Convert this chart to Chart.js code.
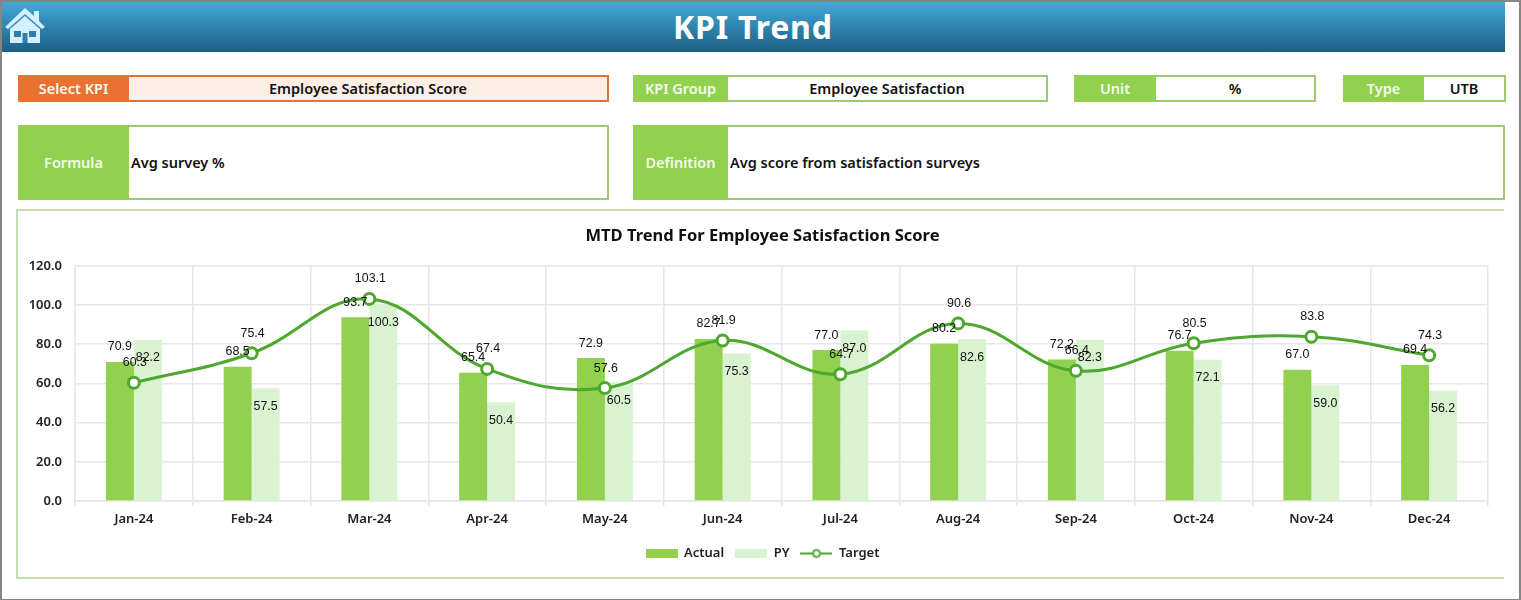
<!DOCTYPE html>
<html>
<head>
<meta charset="utf-8">
<title>KPI Trend</title>
<script src="https://cdn.jsdelivr.net/npm/chart.js@4/dist/chart.umd.js"></script>
<style>
  html, body { margin: 0; padding: 0; background: #fff; }
  #page { position: relative; width: 1521px; height: 600px; overflow: hidden; background: #fff; font-family: "Noto Sans", sans-serif; }
  #frame { position: absolute; left: 0; top: 0; width: 1517px; height: 597px; border: 2px solid #858585; pointer-events: none; }
  #header { position: absolute; left: 2px; top: 2px; width: 1503px; height: 50px; background: linear-gradient(#41a9da, #1b5f83); color: #fff; font: bold 32px "Noto Sans", sans-serif; line-height: 50px; }
  #header span { position: absolute; left: 671px; top: 0; letter-spacing: 0.8px; }
  #home { position: absolute; left: 2px; top: 5px; }
  .box { position: absolute; box-sizing: border-box; border: 2px solid #9ccb6f; background: #fff; font-weight: 600; font-size: 14.5px; color: #111; }
  .box b { position: absolute; left: -2px; top: -2px; bottom: -2px; padding-bottom: 1px; box-sizing: border-box; background: #92d050; color: #f3fbe9; font-weight: 600; display: flex; align-items: center; justify-content: center; }
  .box i { position: absolute; top: 0; bottom: 2px; right: 0; font-style: normal; display: flex; align-items: center; justify-content: center; white-space: nowrap; }
  .box i.left { justify-content: flex-start; padding-left: 2px; }
  .box.orange { border-color: #d5763f; background: #fdeee6; }
  .box.orange b { background: #e97132; }
  #panel { position: absolute; left: 16px; top: 209px; width: 1486px; height: 366px; border: 2px solid #c2e0ae; border-right: none; }
  #chartBox { position: absolute; left: 16px; top: 209px; }
</style>
</head>
<body>
<div id="page">
  <div id="header">
    <svg id="home" width="43" height="38" viewBox="0 0 43 38">
      <polygon points="21,1 1,20 4,22 21,7 38,22 41,20 35,14 35,4 30,4 30,9" fill="#d4efff"/>
      <polygon points="6,22 21,9 36,22 36,36 6,36" fill="#d4efff"/>
      <rect x="10" y="24" width="7" height="6" fill="#2f7ea8"/>
      <rect x="25" y="24" width="7" height="6" fill="#2f7ea8"/>
      <rect x="18.5" y="26" width="5" height="10" fill="#2f7ea8"/>
    </svg>
    <span>KPI Trend</span>
  </div>

  <div class="box orange" style="left:18px;top:75px;width:591px;height:27px"><b style="width:111px">Select KPI</b><i style="left:109px">Employee Satisfaction Score</i></div>
  <div class="box" style="left:633px;top:75px;width:415px;height:27px"><b style="width:95px">KPI Group</b><i style="left:93px">Employee Satisfaction</i></div>
  <div class="box" style="left:1074px;top:75px;width:242px;height:27px"><b style="width:82px">Unit</b><i style="left:80px">%</i></div>
  <div class="box" style="left:1343px;top:75px;width:163px;height:27px"><b style="width:81px">Type</b><i style="left:79px">UTB</i></div>
  <div class="box" style="left:18px;top:125px;width:591px;height:75px"><b style="width:111px">Formula</b><i class="left" style="left:109px">Avg survey %</i></div>
  <div class="box" style="left:633px;top:125px;width:872px;height:75px"><b style="width:95px">Definition</b><i class="left" style="left:93px">Avg score from satisfaction surveys</i></div>

  <div id="panel"></div>
  <div id="chartBox"><canvas id="trendChart" width="1493" height="368"></canvas></div>
  <div id="frame"></div>
</div>

<script>
  const months = ["Jan-24", "Feb-24", "Mar-24", "Apr-24", "May-24", "Jun-24", "Jul-24", "Aug-24", "Sep-24", "Oct-24", "Nov-24", "Dec-24"];
  const actualValues = [70.9, 68.5, 93.7, 65.4, 72.9, 82.7, 77.0, 80.2, 72.2, 76.7, 67.0, 69.4];
  const pyValues = [82.2, 57.5, 100.3, 50.4, 60.5, 75.3, 87.0, 82.6, 82.3, 72.1, 59.0, 56.2];
  const targetValues = [60.3, 75.4, 103.1, 67.4, 57.6, 81.9, 64.7, 90.6, 66.4, 80.5, 83.8, 74.3];
  const yMax = 120;
  const yStep = 20;

  const actualColor = "#92d050";
  const pyColor = "#d9f2d0";
  const targetColor = "#4ea72e";
  const gridColor = "#e6e6e6";
  const axisFont = { family: "'Noto Sans'", size: 13, weight: "600" };

  // legend swatches, the default legend can't do a line with a ring on it
  function barSwatch(color) {
    const c = document.createElement("canvas");
    c.width = 32;
    c.height = 9;
    const g = c.getContext("2d");
    g.fillStyle = color;
    g.fillRect(0, 0, 32, 9);
    return c;
  }
  function lineSwatch(color) {
    const c = document.createElement("canvas");
    c.width = 32;
    c.height = 12;
    const g = c.getContext("2d");
    g.strokeStyle = color;
    g.lineWidth = 2;
    g.beginPath();
    g.moveTo(0, 6);
    g.lineTo(32, 6);
    g.stroke();
    g.beginPath();
    g.arc(16, 6, 3.5, 0, Math.PI * 2);
    g.fillStyle = "#fff";
    g.fill();
    g.stroke();
    return c;
  }

  // value labels for each dataset, offset is measured from the top of the mark
  const valueLabels = {
    id: "valueLabels",
    afterDatasetsDraw(chart) {
      const ctx = chart.ctx;
      ctx.save();
      ctx.font = "12.4px 'Liberation Sans'";
      ctx.fillStyle = "#111";
      ctx.textAlign = "center";
      ctx.textBaseline = "middle";
      chart.data.datasets.forEach((ds, i) => {
        chart.getDatasetMeta(i).data.forEach((el, j) => {
          ctx.fillText(ds.data[j].toFixed(1), el.x + ds.labelDx, el.y + ds.labelDy);
        });
      });
      ctx.restore();
    },
  };

  new Chart(document.getElementById("trendChart"), {
    type: "bar",
    data: {
      labels: months,
      datasets: [
        { label: "Actual", data: actualValues, backgroundColor: actualColor, order: 1, labelDx: 0, labelDy: -15 },
        { label: "PY", data: pyValues, backgroundColor: pyColor, order: 1, labelDx: 0, labelDy: 18 },
        {
          type: "line",
          label: "Target",
          data: targetValues,
          borderColor: targetColor,
          borderWidth: 3,
          tension: 0.4,
          pointRadius: 5.5,
          pointBorderWidth: 3,
          pointBackgroundColor: "#fff",
          pointBorderColor: targetColor,
          order: 0,
          labelDx: 1,
          labelDy: -20,
        },
      ],
    },
    options: {
      responsive: false,
      animation: false,
      layout: { padding: { left: 0, right: 0, top: 0, bottom: 7 } },
      categoryPercentage: 0.475,
      barPercentage: 1,
      scales: {
        x: {
          grid: { color: gridColor, lineWidth: 1.5, tickLength: 5, tickColor: gridColor },
          border: { color: gridColor, width: 1.5 },
          ticks: { font: axisFont, color: "#222", padding: 5, maxRotation: 0 },
          afterFit(scale) { scale.height = 35; },
        },
        y: {
          min: 0,
          max: yMax,
          grid: { color: gridColor, lineWidth: 1.5, drawTicks: false },
          border: { color: gridColor, width: 1.5 },
          ticks: {
            stepSize: yStep,
            font: axisFont,
            color: "#222",
            padding: 13,
            callback: (v) => v.toFixed(1),
          },
          afterFit(scale) { scale.width = 59; },
        },
        // empty axis, only reserves the gutter on the right so title and legend stay centred on the canvas
        gutter: {
          type: "linear",
          position: "right",
          grid: { display: false },
          border: { display: false },
          ticks: { display: false },
          afterFit(scale) { scale.width = 21; },
        },
      },
      plugins: {
        tooltip: { enabled: false },
        title: {
          display: true,
          text: "MTD Trend For Employee Satisfaction Score",
          color: "#111",
          font: { family: "'Noto Sans'", size: 16.5, weight: "bold" },
          padding: { top: 17, bottom: 20 },
        },
        legend: {
          position: "bottom",
          onClick: null,
          labels: {
            usePointStyle: true,
            pointStyleWidth: 32,
            font: axisFont,
            color: "#222",
            padding: 11,
            generateLabels: () => [
              { text: "Actual", pointStyle: barSwatch(actualColor), fontColor: "#222", lineWidth: 0 },
              { text: "PY", pointStyle: barSwatch(pyColor), fontColor: "#222", lineWidth: 0 },
              { text: "Target", pointStyle: lineSwatch(targetColor), fontColor: "#222", lineWidth: 0 },
            ],
          },
        },
      },
    },
    plugins: [valueLabels],
  });
</script>
</body>
</html>
